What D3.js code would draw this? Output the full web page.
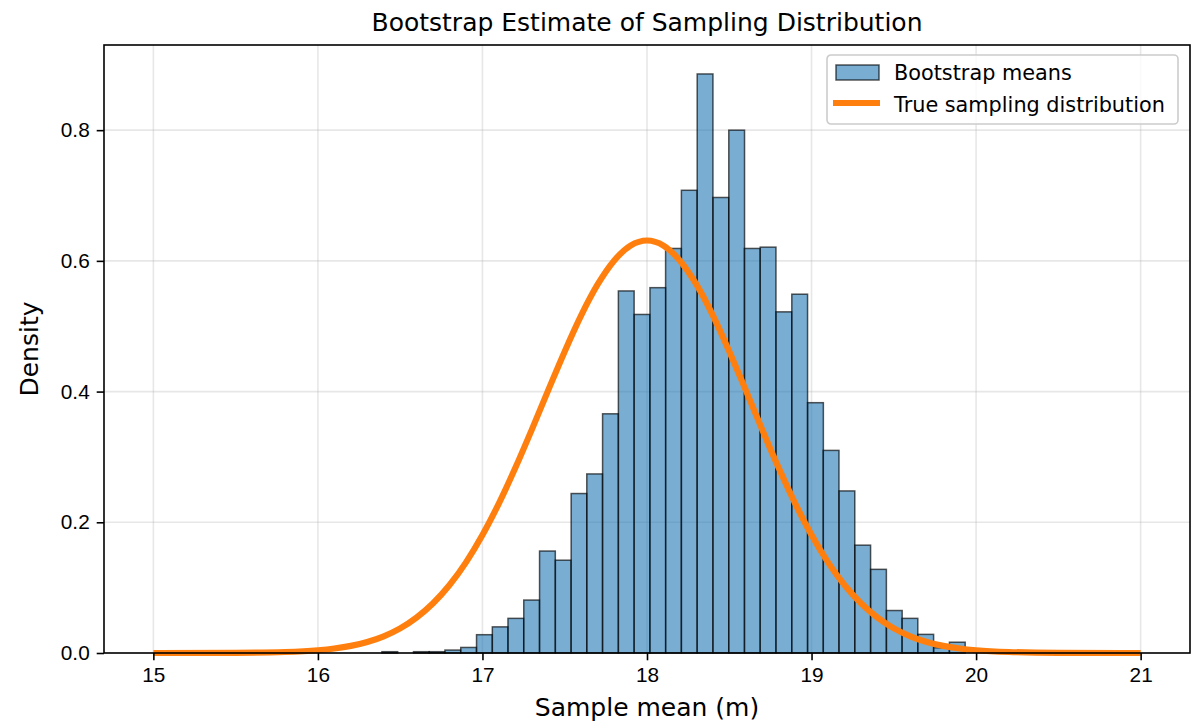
<!DOCTYPE html>
<html>
<head>
<meta charset="utf-8">
<script src="https://cdn.jsdelivr.net/npm/d3@7"></script>
<style>
    body { margin: 0; background: #fff; }
    svg { display: block; font-family: "DejaVu Sans", sans-serif; }
    .grid line { stroke: #b0b0b0; stroke-opacity: 0.3; stroke-width: 1.6; }
    .axis path, .axis line { stroke: #000; stroke-width: 1.6; }
    .axis text { font-size: 20.8px; fill: #000; }
    .bar { fill: #1f77b4; fill-opacity: 0.6; stroke: #000; stroke-opacity: 0.65; stroke-width: 1.5; }
    .true-line { fill: none; stroke: #ff7f0e; stroke-width: 6.2; stroke-linejoin: round; }
</style>
</head>
<body>
<div id="content"></div>
<script>
// Histogram bins (left edges) and bin width
var binLefts = [16.389, 16.485, 16.581, 16.676, 16.772, 16.868, 16.964, 17.060, 17.155, 17.251,
    17.347, 17.443, 17.539, 17.634, 17.730, 17.826, 17.922, 18.018, 18.113, 18.209,
    18.305, 18.401, 18.497, 18.592, 18.688, 18.784, 18.880, 18.976, 19.071, 19.167,
    19.263, 19.359, 19.455, 19.550, 19.646, 19.742, 19.838];
var binWidth = 0.0958;

// Bootstrap means density per bin
var binDensity = [0.002, 0, 0.002, 0.002, 0.0045, 0.0085, 0.028, 0.040, 0.053, 0.081,
    0.156, 0.142, 0.244, 0.274, 0.366, 0.554, 0.518, 0.559, 0.619, 0.708,
    0.886, 0.697, 0.800, 0.619, 0.621, 0.522, 0.549, 0.383, 0.310, 0.248,
    0.165, 0.128, 0.065, 0.053, 0.0285, 0.008, 0.0165];

// True sampling distribution
var curveX = [15, 15.5, 15.8, 16.0, 16.1, 16.2, 16.3, 16.4, 16.5, 16.6, 16.7, 16.8, 16.9,
    17.0, 17.1, 17.2, 17.3, 17.4, 17.5, 17.6, 17.7, 17.8, 17.9, 18.0,
    18.1, 18.2, 18.3, 18.4, 18.5, 18.6, 18.7, 18.8, 18.9, 19.0,
    19.1, 19.2, 19.3, 19.4, 19.5, 19.6, 19.7, 19.8, 19.9, 20.0, 20.2, 20.5, 21];
var curveY = [0.000, 0.0003, 0.0015, 0.0042, 0.0069, 0.0109, 0.0169, 0.0256, 0.0377, 0.0543, 0.0761, 0.1040, 0.1387,
    0.1805, 0.2290, 0.2833, 0.3418, 0.4022, 0.4615, 0.5166, 0.5639, 0.6003, 0.6234, 0.6312,
    0.6234, 0.6003, 0.5639, 0.5166, 0.4615, 0.4022, 0.3418, 0.2833, 0.2290, 0.1805,
    0.1387, 0.1040, 0.0761, 0.0543, 0.0377, 0.0256, 0.0169, 0.0109, 0.0069, 0.0042, 0.0015, 0.0003, 0.000];

// Tick values
var xTicks = [15, 16, 17, 18, 19, 20, 21];
var yTicks = [0.0, 0.2, 0.4, 0.6, 0.8];

var titleText = "Bootstrap Estimate of Sampling Distribution";
var xLabel = "Sample mean (m)";
var yLabel = "Density";
var legendLabels = ["Bootstrap means", "True sampling distribution"];

// SVG size
var svgWidth = 1191;
var svgHeight = 725;

// Chart specifications
var margin = { top: 45, right: 1, bottom: 72, left: 104 },
    plotWidth = svgWidth - margin.left - margin.right,
    plotHeight = svgHeight - margin.top - margin.bottom;

var xScale = d3.scaleLinear()
    .domain([14.7, 21.3])
    .range([0, plotWidth]);

var yScale = d3.scaleLinear()
    .domain([0, d3.max(binDensity) * 1.05])
    .range([plotHeight, 0]);

var svg = d3.select("#content").append("svg")
    .attr("width", svgWidth)
    .attr("height", svgHeight);

var chart = svg.append("g")
    .attr("transform", "translate(" + margin.left + "," + margin.top + ")");

// Grid lines
var grid = chart.append("g").attr("class", "grid");
grid.selectAll(".gx")
    .data(xTicks)
    .enter().append("line")
    .attr("x1", function (d) { return xScale(d); })
    .attr("x2", function (d) { return xScale(d); })
    .attr("y1", 0)
    .attr("y2", plotHeight);
grid.selectAll(".gy")
    .data(yTicks)
    .enter().append("line")
    .attr("x1", 0)
    .attr("x2", plotWidth)
    .attr("y1", function (d) { return yScale(d); })
    .attr("y2", function (d) { return yScale(d); });

// Histogram bars
var bins = binLefts.map(function (x0, i) {
    return { x0: x0, x1: x0 + binWidth, value: binDensity[i] };
});

chart.selectAll(".bar")
    .data(bins.filter(function (d) { return d.value > 0; }))
    .enter().append("rect")
    .attr("class", "bar")
    .attr("x", function (d) { return xScale(d.x0); })
    .attr("y", function (d) { return yScale(d.value); })
    .attr("width", function (d) { return xScale(d.x1) - xScale(d.x0); })
    .attr("height", function (d) { return plotHeight - yScale(d.value); });

// True sampling distribution
var curvePoints = curveX.map(function (x, i) { return [x, curveY[i]]; });
var lineGen = d3.line()
    .x(function (d) { return xScale(d[0]); })
    .y(function (d) { return yScale(d[1]); })
    .curve(d3.curveMonotoneX);

chart.append("path")
    .datum(curvePoints)
    .attr("class", "true-line")
    .attr("d", lineGen);

// Axes
var xAxis = d3.axisBottom(xScale)
    .tickValues(xTicks)
    .tickFormat(d3.format("d"))
    .tickSizeInner(7.3)
    .tickSizeOuter(0)
    .tickPadding(7);

var yAxis = d3.axisLeft(yScale)
    .tickValues(yTicks)
    .tickFormat(d3.format(".1f"))
    .tickSizeInner(7.3)
    .tickSizeOuter(0)
    .tickPadding(7);

chart.append("g")
    .attr("class", "x axis")
    .attr("transform", "translate(0," + plotHeight + ")")
    .call(xAxis)
    .select(".domain").remove();

chart.append("g")
    .attr("class", "y axis")
    .call(yAxis)
    .select(".domain").remove();

// Frame
chart.append("rect")
    .attr("x", 0)
    .attr("y", 0)
    .attr("width", plotWidth)
    .attr("height", plotHeight)
    .attr("fill", "none")
    .attr("stroke", "#000")
    .attr("stroke-width", 1.6);

// Title and labels
svg.append("text")
    .attr("x", margin.left + plotWidth / 2)
    .attr("y", 31)
    .attr("text-anchor", "middle")
    .style("font-size", "25px")
    .text(titleText);

svg.append("text")
    .attr("x", margin.left + plotWidth / 2)
    .attr("y", 716)
    .attr("text-anchor", "middle")
    .style("font-size", "25px")
    .text(xLabel);

svg.append("text")
    .attr("transform", "translate(38," + (margin.top + plotHeight / 2) + ") rotate(-90)")
    .attr("text-anchor", "middle")
    .style("font-size", "25px")
    .text(yLabel);

// Legend
var legend = svg.append("g")
    .attr("transform", "translate(827,55)");

legend.append("rect")
    .attr("width", 351)
    .attr("height", 69)
    .attr("rx", 4)
    .attr("fill", "#fff")
    .attr("fill-opacity", 0.8)
    .attr("stroke", "#cccccc")
    .attr("stroke-width", 1.6);

legend.append("rect")
    .attr("class", "bar")
    .attr("x", 9)
    .attr("y", 10)
    .attr("width", 43)
    .attr("height", 15);

legend.append("line")
    .attr("class", "true-line")
    .attr("x1", 6)
    .attr("x2", 53)
    .attr("y1", 48)
    .attr("y2", 48);

legend.selectAll(".legend-text")
    .data(legendLabels)
    .enter().append("text")
    .attr("x", 67)
    .attr("y", function (d, i) { return 25 + i * 32; })
    .style("font-size", "20.8px")
    .text(function (d) { return d; });
</script>
</body>
</html>
